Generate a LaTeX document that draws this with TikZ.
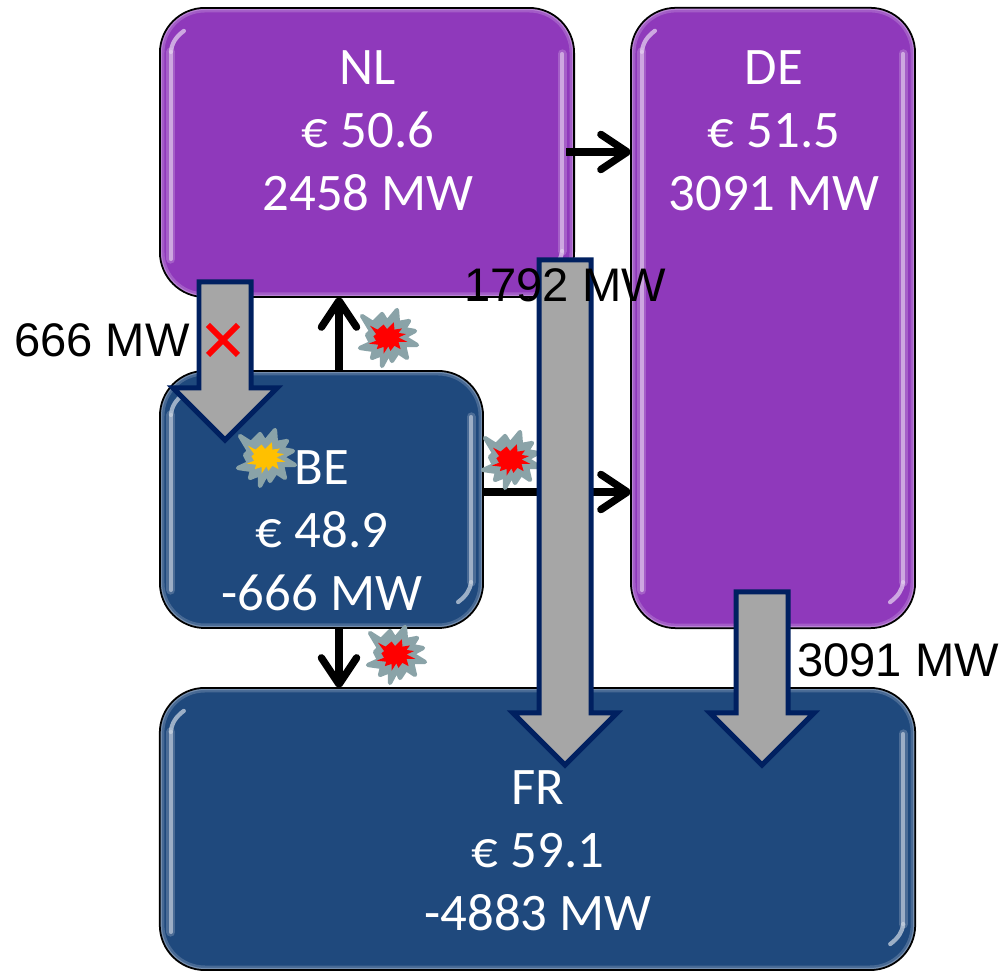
\documentclass[tikz,border=0pt]{standalone}
\usepackage{fontspec}
\setmainfont{Liberation Sans}
\newfontfamily\boxfont{Carlito}
\usetikzlibrary{positioning}
\usetikzlibrary{calc}
\usetikzlibrary{arrows.meta}
\usetikzlibrary{shapes.misc}
\definecolor{nlpurple}{HTML}{8F39BB}
\definecolor{beblue}{HTML}{1F497D}
\definecolor{arrowgray}{HTML}{A6A6A6}
\definecolor{arrownavy}{HTML}{002060}
\definecolor{burstgray}{HTML}{8AA3A8}
\definecolor{burstyellow}{HTML}{FFC000}
\newcommand{\burstpath}{(-25,-22) -- (-14,-15) -- (-5,-24) -- (0,-16) -- (10,-28) -- (11,-15) -- (22,-17) -- (17,-9) -- (28,-7) -- (17,-1) -- (30,7) -- (17,7) -- (20,20) -- (11,14) -- (5,23) -- (2,15) -- (-5,28) -- (-5,16) -- (-15,20) -- (-13,12) -- (-27,10) -- (-16,5) -- (-20,-3) -- (-16,-7) -- cycle}
\begin{document}
\begin{tikzpicture}[x=0.01cm,y=-0.01cm,
	glow/.style={sharp corners,line cap=round,line join=round},
	market node/.style={shape=rectangle,draw=black,line width=0.5pt,rounded corners=0.45cm,inner sep=0,outer sep=0,fill=#1,
		path picture={
			\coordinate (pnw) at (path picture bounding box.north west);
			\coordinate (pse) at (path picture bounding box.south east);
			\draw[white,opacity=0.18,line width=2.6pt,rounded corners=0.45cm] (pnw) rectangle (pse);
			\draw[white,opacity=0.25,line width=1.2pt,rounded corners=0.45cm] (pnw) rectangle (pse);
			\foreach \w/\o in {2.6pt/0.3,1.1pt/0.8}
			{
				\draw[glow,#1!35!white,opacity=\o,line width=\w] ($(pse -| pnw)+(11,-38)$) -- ($(pnw)+(11,44)$);
				\draw[glow,#1!35!white,opacity=\o,line width=\w] ($(pnw -| pse)+(-12,46)$) -- ($(pse)+(-12,-46)$);
			}
			%corner glints
			\draw[glow,#1!25!white,opacity=0.75,line width=1.2pt] ($(pnw)+(11,44)$) .. controls ($(pnw)+(12,35)$) and ($(pnw)+(16,29)$) .. ($(pnw)+(24,23)$);
			\draw[glow,#1!25!white,opacity=0.75,line width=1.2pt] ($(pse)+(-12,-46)$) .. controls ($(pse)+(-13,-38)$) and ($(pse)+(-17,-32)$) .. ($(pse)+(-25,-26)$);
		}},
	label node/.style={font=\fontsize{13.4}{16}\selectfont,text=black,inner sep=0},
	price node/.style={font=\boxfont\fontsize{15}{17.9}\selectfont,text=white,align=center,inner sep=0},
	flow/.style={line width=2.1pt,-{Straight Barb[length=7.5pt,width=10pt,round]}},
	burst/.pic={
		\path[fill=burstgray,draw=burstgray,line width=1.2pt,line join=round] \burstpath;
		\begin{scope}[xscale=0.68,yscale=0.56]
			\path[fill=#1] \burstpath;
		\end{scope}
	},
	]
	\useasboundingbox (0,0) rectangle (1000,971);
	%market boxes
	\node[market node=nlpurple,minimum width=4.14cm,minimum height=2.89cm] (nl) at (367,152.5){};
	\node[market node=nlpurple,minimum width=2.84cm,minimum height=6.20cm] (de) at (773,318){};
	\node[market node=beblue,minimum width=3.23cm,minimum height=2.57cm] (be) at (321.5,499.5){};
	\node[market node=beblue,minimum width=7.55cm,minimum height=2.82cm] (fr) at (537.5,829){};
	\node[price node] (nltext) at (368,131){NL\\€ 50.6\\2458 MW};
	\node[price node] (detext) at (774,131){DE\\€ 51.5\\3091 MW};
	\node[price node] (betext) at (322,531){BE\\€ 48.9\\-666 MW};
	\node[price node] (frtext) at (538,851){FR\\€ 59.1\\-4883 MW};
	%thin flows
	\coordinate (flowx) at (339,0);
	\coordinate (nlout) at (566,152);
	\coordinate (beout) at (483,492);
	\draw[flow] (be.north -| flowx) -- (nl.south -| flowx);
	\draw[flow] (be.south -| flowx) -- (fr.north -| flowx);
	\draw[flow] (nlout) -- (nlout -| de.west);
	\draw[flow] (beout) -- (beout -| de.west);
	%bursts
	\pic (burstnl) at (387,338) {burst=red};
	\pic (burstfr) at (395,655) {burst=red};
	\pic (burstde) at (510,460) {burst=red};
	\pic (burstbe) at (265,458) {burst=burstyellow};
	%block arrows
	\foreach \cx/\top/\tip in {225/282/440,565/260/765,762/592/765}
	{
		\draw[fill=arrowgray,draw=arrownavy,line width=1.42pt,miter limit=10]
			(\cx-26,\top) -- (\cx+26,\top) -- (\cx+26,\tip-52) -- (\cx+52,\tip-52) -- (\cx,\tip) -- (\cx-52,\tip-52) -- (\cx-26,\tip-52) -- cycle;
	}
	\node[shape=cross out,draw=red,line width=1.7pt,inner sep=0,minimum size=0.24cm] (block) at (223,340){};
	%flow labels
	\node[label node] (nlbe) at (102,340){666 MW};
	\node[label node] (nlfr) at (565,285){1792 MW};
	\node[label node] (defr) at (898,660){3091 MW};
\end{tikzpicture}
\end{document}
